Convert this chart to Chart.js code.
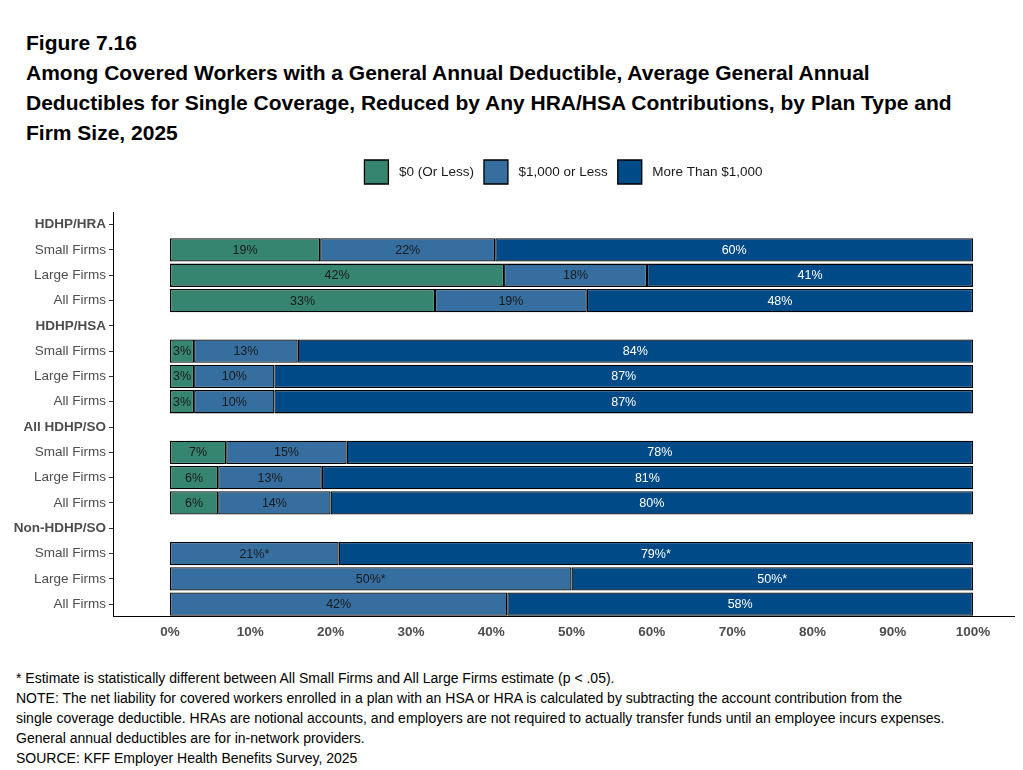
<!DOCTYPE html>
<html>
<head>
<meta charset="utf-8">
<script src="https://cdn.jsdelivr.net/npm/chart.js@4"></script>
<style>
  body { margin: 0; background: #fff; font-family: "Liberation Sans", Arial, sans-serif; }
  #page { position: relative; width: 1023px; height: 770px; overflow: hidden; }
  #title { position: absolute; left: 26px; top: 28px; font-size: 21px; font-weight: bold; line-height: 30px; color: #000; white-space: nowrap; }
  #chartBox { position: absolute; left: 0; top: 150px; width: 1023px; height: 505px; }
  #notes { position: absolute; left: 16px; top: 668px; font-size: 14px; line-height: 20px; color: #000; white-space: nowrap; }
</style>
</head>
<body>
<div id="page">
  <div id="title">
    Figure 7.16<br>
    Among Covered Workers with a General Annual Deductible, Average General Annual<br>
    Deductibles for Single Coverage, Reduced by Any HRA/HSA Contributions, by Plan Type and<br>
    Firm Size, 2025
  </div>
  <div id="chartBox"><canvas id="deductibleChart" width="1023" height="505"></canvas></div>
  <div id="notes">
    * Estimate is statistically different between All Small Firms and All Large Firms estimate (p &lt; .05).<br>
    NOTE: The net liability for covered workers enrolled in a plan with an HSA or HRA is calculated by subtracting the account contribution from the<br>
    single coverage deductible. HRAs are notional accounts, and employers are not required to actually transfer funds until an employee incurs expenses.<br>
    General annual deductibles are for in-network providers.<br>
    SOURCE: KFF Employer Health Benefits Survey, 2025
  </div>
</div>
<script>
// Data
const planTypes = ["HDHP/HRA", "HDHP/HSA", "All HDHP/SO", "Non-HDHP/SO"];
const firmSizes = ["Small Firms", "Large Firms", "All Firms"];
const seriesNames = ["$0 (Or Less)", "$1,000 or Less", "More Than $1,000"];

// 12 rows: plan type x firm size (Small, Large, All)
const zeroOrLess = [18.7, 41.6, 33.0, 3, 3, 3, 7, 6, 6, 0, 0, 0];
const upTo1000 = [21.8, 17.8, 18.9, 12.9, 10, 10, 15, 12.9, 14, 21, 50, 42];
const over1000 = [59.5, 40.6, 48.1, 84.1, 87, 87, 78, 81.1, 80, 79, 50, 58];

const zeroOrLessStar = [0, 0, 0, 0, 0, 0, 0, 0, 0, 0, 0, 0];
const upTo1000Star = [0, 0, 0, 0, 0, 0, 0, 0, 0, 1, 1, 0];
const over1000Star = [0, 0, 0, 0, 0, 0, 0, 0, 0, 1, 1, 0];

const xTicks = [0, 10, 20, 30, 40, 50, 60, 70, 80, 90, 100];

// Build category list with a header row per plan type
const labels = [];
const headerRows = [];
planTypes.forEach((p) => {
  headerRows.push(labels.length);
  labels.push(p);
  firmSizes.forEach((f) => labels.push(f));
});

const withHeaders = (arr) => {
  const out = [];
  planTypes.forEach((p, i) => {
    out.push(null);
    firmSizes.forEach((f, j) => out.push(arr[i * 3 + j]));
  });
  return out;
};

const colors = ["#368571", "#356e9f", "#004b87"];
const textColors = ["#1a1a1a", "#1a1a1a", "#ffffff"];
const stars = [zeroOrLessStar, upTo1000Star, over1000Star].map(withHeaders);

const barLabels = {
  id: "barLabels",
  afterDatasetsDraw(chart) {
    const ctx = chart.ctx;
    ctx.save();
    ctx.font = '12.5px "Liberation Sans", Arial, sans-serif';
    ctx.textAlign = "center";
    ctx.textBaseline = "middle";
    chart.data.datasets.forEach((ds, i) => {
      const meta = chart.getDatasetMeta(i);
      meta.data.forEach((el, k) => {
        const v = ds.data[k];
        if (v == null || v <= 0) return;
        const c = el.getCenterPoint();
        ctx.fillStyle = textColors[i];
        ctx.fillText(Math.round(v) + "%" + (stars[i][k] ? "*" : ""), c.x, c.y + 0.5);
      });
    });
    ctx.restore();
  },
};

// extra room under the legend
const legendSpacing = {
  id: "legendSpacing",
  beforeInit(chart) {
    const origFit = chart.legend.fit;
    chart.legend.fit = function fit() {
      origFit.bind(chart.legend)();
      this.height += 18;
    };
  },
};

Chart.defaults.font.family = '"Liberation Sans", Arial, sans-serif';
Chart.defaults.color = "#4d4d4d";

new Chart(document.getElementById("deductibleChart"), {
  type: "bar",
  data: {
    labels,
    datasets: [zeroOrLess, upTo1000, over1000].map((arr, i) => ({
      label: seriesNames[i],
      data: withHeaders(arr),
      backgroundColor: colors[i],
      borderColor: "#000",
      borderWidth: 1.3,
      borderSkipped: false,
      barPercentage: 0.92,
      categoryPercentage: 1,
    })),
  },
  options: {
    indexAxis: "y",
    responsive: false,
    animation: false,
    layout: { padding: { left: 0, right: 9, top: 0, bottom: 8 } },
    plugins: {
      legend: {
        position: "top",
        fullSize: false,
        labels: {
          boxWidth: 24,
          boxHeight: 24,
          padding: 10,
          color: "#1a1a1a",
          font: { size: 13.5 },
          generateLabels: (chart) =>
            Chart.defaults.plugins.legend.labels
              .generateLabels(chart)
              .map((item) => ({ ...item, text: " " + item.text })),
        },
      },
      tooltip: { enabled: false },
    },
    scales: {
      x: {
        type: "linear",
        stacked: true,
        min: -7.1,
        max: 105.1,
        afterBuildTicks: (scale) => {
          scale.ticks = xTicks.map((v) => ({ value: v }));
        },
        ticks: {
          callback: (v) => v + "%",
          font: { size: 13.5, weight: "bold" },
          color: "#4d4d4d",
          padding: 7,
        },
        grid: { display: false, drawTicks: false },
        border: { display: true, color: "#000", width: 1 },
      },
      y: {
        stacked: true,
        offset: true,
        afterFit: (scale) => {
          scale.width = 113;
        },
        ticks: {
          padding: 3,
          font: (ctx) => ({
            size: 13.5,
            weight: headerRows.includes(ctx.index) ? "bold" : "normal",
          }),
          color: "#4d4d4d",
        },
        grid: {
          display: true,
          offset: false,
          drawOnChartArea: false,
          drawTicks: true,
          tickLength: 4,
          color: "#333",
        },
        border: { display: true, color: "#000", width: 1 },
      },
    },
  },
  plugins: [barLabels, legendSpacing],
});
</script>
</body>
</html>
